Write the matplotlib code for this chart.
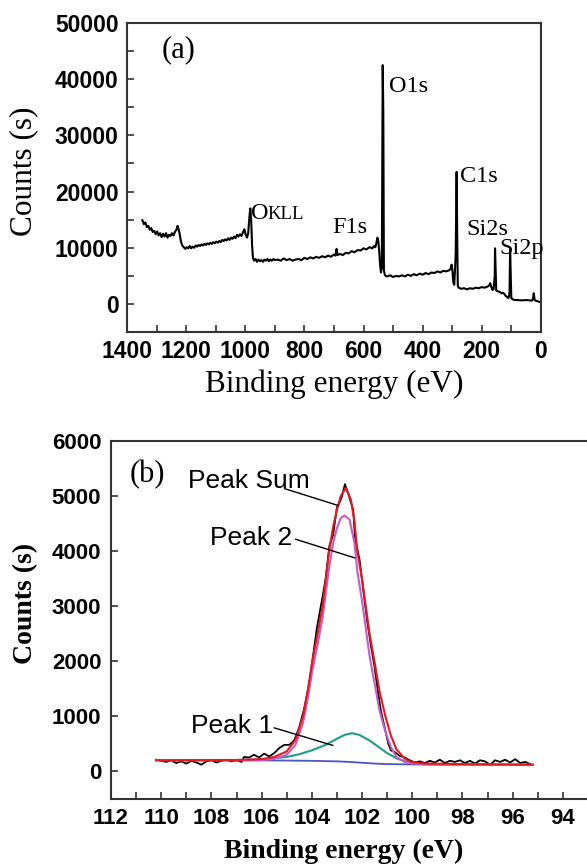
import numpy as np
import matplotlib
matplotlib.use('Agg')
import matplotlib.pyplot as plt
from matplotlib.ticker import MultipleLocator

# survey spectrum (panel a)
survey_energy = [1348, 1343, 1338, 1333, 1328, 1323, 1318, 1313, 1308, 1303, 1298, 1293, 1288, 1283, 1278,
                 1273, 1268, 1263, 1258, 1253, 1248, 1243, 1238, 1233, 1229, 1226, 1222, 1218, 1213, 1208,
                 1203, 1198, 1193, 1188, 1183, 1178, 1173, 1168, 1163, 1158, 1153, 1148, 1143, 1138, 1133,
                 1128, 1123, 1118, 1113, 1108, 1103, 1098, 1093, 1088, 1083, 1078, 1073, 1068, 1063, 1058,
                 1053, 1048, 1043, 1038, 1033, 1028, 1023, 1018, 1013, 1008, 1003, 999, 994, 990, 986,
                 983, 980, 977, 974, 970, 965, 960, 955, 950, 945, 940, 935, 930, 925, 920,
                 915, 910, 905, 900, 890, 880, 870, 860, 850, 840, 830, 820, 810, 800, 790,
                 780, 770, 760, 750, 740, 730, 720, 710, 700, 695, 691, 688, 680, 670, 660,
                 650, 640, 630, 620, 610, 600, 590, 580, 570, 565, 560, 557, 553, 550, 547,
                 544, 541, 538, 535, 533, 531, 528, 525, 520, 510, 500, 490, 480, 470, 460,
                 450, 440, 430, 420, 410, 400, 390, 380, 370, 360, 350, 340, 330, 320, 310,
                 305, 302, 299, 296, 293, 288, 285, 283, 281, 278, 270, 260, 250, 240, 230,
                 220, 210, 200, 190, 180, 175, 171, 168, 164, 160, 156, 155, 153, 151, 148,
                 143, 138, 133, 128, 124, 120, 116, 112, 109, 106, 104, 102, 100, 97, 90,
                 80, 70, 60, 50, 40, 30, 27, 24, 21, 18, 12, 6, 1]
survey_counts = [14900, 14200, 14500, 13700, 13900, 13200, 13500, 12800, 13000, 12400, 12900, 12200, 12600, 11900, 12500,
                 12000, 12600, 11800, 12300, 12100, 12600, 12200, 12800, 13200, 13900, 13400, 12500, 11200, 10400, 10100,
                 9800, 10100, 9900, 10300, 9900, 10200, 10000, 10400, 10200, 10500, 10300, 10600, 10400, 10700, 10500,
                 10800, 10600, 10900, 10700, 11000, 10800, 11100, 10900, 11200, 11000, 11400, 11200, 11500, 11300, 11700,
                 11400, 11800, 11600, 12000, 11700, 12300, 12000, 12400, 12100, 12700, 13300, 12400, 11800, 12600, 15500,
                 17000, 15000, 10500, 8200, 7700, 8000, 7500, 7900, 7600, 7800, 7500, 7900, 7700, 8000, 7600,
                 7900, 7700, 8000, 7800, 7900, 7700, 8100, 7800, 8000, 7700, 7900, 8000, 7800, 8200, 8000,
                 8300, 8100, 8400, 8200, 8500, 8300, 8600, 8400, 8800, 8600, 9800, 8700, 8900, 8700, 9100,
                 9000, 9400, 9200, 9600, 9500, 9900, 9700, 10100, 9900, 10300, 10100, 10700, 11800, 11200, 9500,
                 7000, 5600, 6500, 42500, 34000, 6000, 5200, 5000, 4900, 5100, 4800, 5000, 4900, 5100, 4900,
                 5200, 5000, 5300, 5100, 5400, 5200, 5500, 5300, 5600, 5500, 5800, 5600, 5900, 5800, 6000,
                 6300, 7000, 5800, 3800, 3400, 9000, 23500, 12000, 3200, 2900, 2700, 2800, 2600, 2800, 2700,
                 2900, 2800, 3000, 2900, 3100, 3300, 3700, 3100, 2500, 2600, 5000, 9900, 6000, 2400, 2300,
                 2200, 2100, 1900, 2000, 1800, 1500, 1300, 1100, 1100, 2000, 9800, 5000, 1000, 900, 700,
                 700, 650, 650, 700, 650, 600, 800, 1900, 700, 600, 500, 400, 300]

survey_labels = ['O1s', 'C1s', 'Si2s', 'Si2p', 'F1s']
survey_label_x = [515, 272, 252, 142, 704]
survey_label_y = [38700, 22600, 13300, 9900, 13600]

# Si 2p high resolution (panel b)
raw_energy = [110.2, 110.0, 109.8, 109.6, 109.4, 109.2, 109.0, 108.8, 108.6, 108.4, 108.2, 108.0, 107.8, 107.6,
              107.4, 107.2, 107.0, 106.8, 106.7, 106.5, 106.3, 106.1, 105.9, 105.7, 105.5, 105.3, 105.1, 104.9,
              104.7, 104.5, 104.3, 104.1, 103.95, 103.8, 103.6, 103.45, 103.3, 103.15, 103.0, 102.9, 102.8,
              102.68, 102.55, 102.45, 102.35, 102.28, 102.1, 101.95, 101.8, 101.65, 101.5, 101.35, 101.25,
              101.1, 100.95, 100.85, 100.7, 100.5, 100.3, 100.1, 99.9, 99.7, 99.5, 99.3, 99.1, 98.9, 98.7,
              98.5, 98.3, 98.1, 97.9, 97.7, 97.5, 97.3, 97.1, 96.9, 96.7, 96.5, 96.3, 96.1, 95.9, 95.7,
              95.5, 95.3]
raw_counts = [210, 190, 170, 200, 150, 180, 140, 190, 160, 120, 180, 200, 160, 190,
              210, 180, 200, 170, 260, 250, 300, 250, 320, 270, 330, 420, 480, 480,
              560, 800, 1150, 1600, 2100, 2600, 3100, 3500, 4100, 4300, 4800, 4880, 5000,
              5220, 5050, 4900, 4750, 4250, 3850, 3300, 2750, 2300, 1900, 1400, 1100,
              800, 500, 380, 350, 280, 250, 200, 160, 180, 150, 190, 160, 210, 150,
              190, 170, 200, 150, 190, 140, 200, 180, 120, 200, 170, 210, 160, 220, 150,
              170, 130]

sum_energy = [110.2, 107, 106, 105.5, 105.0, 104.65, 104.35, 104.15, 103.98, 103.75, 103.57, 103.31, 103.15,
              103.0, 102.85, 102.65, 102.45, 102.3, 102.19, 102.0, 101.85, 101.7, 101.52, 101.3, 101.07,
              100.85, 100.63, 100.3, 100.03, 99.5, 98, 95.2]
sum_counts = [200, 205, 220, 260, 360, 570, 1000, 1500, 2000, 2550, 3000, 4000, 4450,
              4750, 5000, 5150, 4950, 4550, 4000, 3500, 3000, 2500, 2040, 1450, 1000,
              650, 400, 230, 170, 140, 130, 120]

p2_energy = [110.2, 107, 106, 105.5, 105.0, 104.65, 104.35, 104.15, 103.98, 103.75, 103.57, 103.31, 103.15,
             103.0, 102.85, 102.7, 102.5, 102.3, 102.19, 102.0, 101.85, 101.7, 101.52, 101.3, 101.07,
             100.85, 100.63, 100.3, 100.03, 99.5, 98, 95.2]
p2_counts = [200, 200, 205, 225, 300, 480, 880, 1350, 1830, 2350, 2800, 3700, 4150,
             4420, 4600, 4650, 4580, 4150, 3650, 3100, 2600, 2100, 1650, 1100, 720,
             440, 260, 170, 145, 130, 125, 118]

p1_energy = [107, 106, 105, 104.5, 104, 103.5, 103, 102.7, 102.4, 102.1, 101.7, 101.3, 101, 100.6, 100.2, 99.8, 99.5]
p1_counts = [205, 215, 260, 310, 380, 470, 590, 660, 693, 660, 560, 430, 330, 230, 170, 140, 130]

bg_energy = [110.2, 107, 105, 104, 103, 102.5, 102, 101.5, 101, 100, 99, 95.2]
bg_counts = [200, 200, 195, 190, 180, 170, 155, 140, 130, 125, 120, 118]

# peak labels: text anchor (right end, centre) and leader line start/end
peak_names = ['Peak Sum', 'Peak 2', 'Peak 1']
peak_text_x = [104.1, 104.78, 105.55]
peak_text_y = [5270, 4250, 820]
peak_line_from = [(105.09, 5140), (104.65, 4220), (105.5, 790)]
peak_line_to = [(102.93, 4830), (102.29, 3880), (103.16, 470)]

serif = 'Liberation Serif'
sans = 'Liberation Sans'

fig = plt.figure(figsize=(5.87, 8.67), dpi=100)

# ---- panel (a)
ax1 = fig.add_axes([0.2164, 0.617, 0.705, 0.3565])
ax1.plot(survey_energy, survey_counts, color='black', lw=1.5)
ax1.set_xlim(1400, 0)
ax1.set_ylim(-5000, 50000)
ax1.xaxis.set_major_locator(MultipleLocator(200))
ax1.xaxis.set_minor_locator(MultipleLocator(100))
ax1.yaxis.set_major_locator(MultipleLocator(10000))
ax1.yaxis.set_minor_locator(MultipleLocator(5000))
ax1.tick_params(which='both', direction='in', top=False, right=False, width=1.2, length=5,
                color='#333333', pad=6)
for lab in ax1.get_xticklabels() + ax1.get_yticklabels():
    lab.set_fontfamily(sans)
    lab.set_fontweight('bold')
    lab.set_fontsize(16.5)
for s in ax1.spines.values():
    s.set_linewidth(1.5)
    s.set_color('#333333')
ax1.set_xlabel('Binding energy (eV)', family=serif, fontsize=22.5)
ax1.xaxis.set_label_coords(0.5, -0.12)
ax1.set_ylabel('Counts (s)', family=serif, fontsize=22.5)
ax1.yaxis.set_label_coords(-0.215, 0.52)
ax1.text(1225, 45300, '(a)', family=serif, fontsize=22, ha='center', va='center')
for name, x, y in zip(survey_labels, survey_label_x, survey_label_y):
    ax1.text(x, y, name, family=serif, fontsize=17.5, ha='left', va='center')
ax1.text(980, 15100, 'O', family=serif, fontsize=17.5, ha='left', va='baseline')
ax1.text(924, 15100, 'KLL', family=serif, fontsize=13.5, ha='left', va='baseline')

# ---- panel (b)
ax2 = fig.add_axes([0.1891, 0.0787, 0.8424, 0.4123])
ax2.plot(raw_energy, raw_counts, color='black', lw=1.3)
ax2.plot(bg_energy, bg_counts, color='#4a55c0', lw=1.3)
ax2.plot(p1_energy, p1_counts, color='#1f9a8c', lw=1.5)
ax2.plot(p2_energy, p2_counts, color='#c65cc8', lw=1.5)
ax2.plot(sum_energy, sum_counts, color='#e81820', lw=1.5)
ax2.set_xlim(112, 92.3)
ax2.set_ylim(-500, 6000)
ax2.xaxis.set_major_locator(MultipleLocator(2))
ax2.xaxis.set_minor_locator(MultipleLocator(1))
ax2.yaxis.set_major_locator(MultipleLocator(1000))
ax2.tick_params(which='both', direction='in', top=False, right=False, width=1.2, length=5,
                color='#333333', pad=7)
for lab in ax2.get_xticklabels() + ax2.get_yticklabels():
    lab.set_fontfamily(sans)
    lab.set_fontweight('bold')
    lab.set_fontsize(16)
for s in ax2.spines.values():
    s.set_linewidth(1.5)
    s.set_color('#333333')
ax2.set_xlabel('Binding energy (eV)', family=serif, fontsize=20, fontweight='bold')
ax2.xaxis.set_label_coords(0.471, -0.112)
ax2.set_ylabel('Counts (s)', family=serif, fontsize=20, fontweight='bold')
ax2.yaxis.set_label_coords(-0.148, 0.547)
ax2.text(110.57, 5400, '(b)', family=serif, fontsize=22, ha='center', va='center')

for name, tx, ty, p0, p1 in zip(peak_names, peak_text_x, peak_text_y, peak_line_from, peak_line_to):
    ax2.text(tx, ty, name, family=sans, fontsize=19, ha='right', va='center')
    ax2.annotate('', xy=p1, xytext=p0,
                 arrowprops=dict(arrowstyle='-', color='black', lw=1.0, shrinkA=0, shrinkB=0))

fig.savefig('out.png', dpi=100)
